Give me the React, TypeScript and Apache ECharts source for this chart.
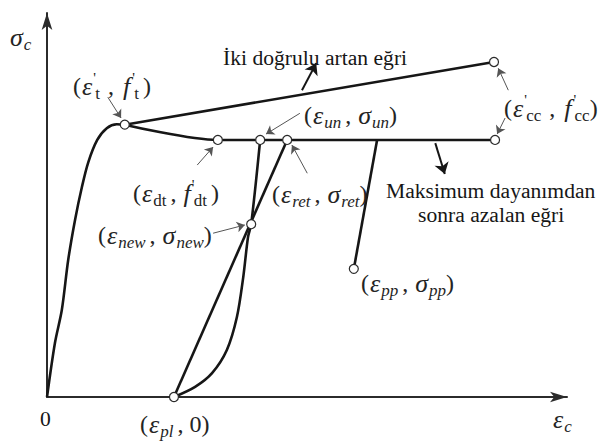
import { useEffect, useRef } from "react";
import * as echarts from "echarts";

const SERIF = "Liberation Serif, serif";
const INK = "#161616";
const LABEL_INK = "#242424";

// Schematic strain (x) and stress (y) values on an arbitrary scale
const X_MAX = 98.3;
const Y_MAX = 98;

const riseBranch = [
  [0, 0], [1.5, 13.8], [2.8, 22.2], [4.0, 34.9], [5.3, 45.2], [6.6, 53.6],
  [7.8, 59.9], [9.5, 65.6], [11.3, 68.6], [13.2, 69.6], [14.7, 69.5],
];
const bilinearBranch = [[14.7, 69.5], [84.5, 85.5]];
const softeningBranch = [[14.7, 69.5], [32.3, 65.6], [84.7, 65.6]];
const unloadBranch = [
  [40.3, 65.6], [38.6, 44.1], [38.0, 40.8], [37.1, 30.6], [35.9, 20.4],
  [34.0, 12.0], [31.2, 6.1], [28.0, 2.6], [24.0, 0],
];
const reloadBranch = [[24.0, 0], [45.4, 65.6]];
const finalUnloadBranch = [[62.4, 65.6], [58.0, 32.7]];

// (ε't,f't), (εdt,f'dt), (εun,σun), (εret,σret), (ε'cc,f'cc) x2, (εnew,σnew), (εpl,0), (εpp,σpp)
const keyPoints = [
  [14.7, 69.5], [32.3, 65.6], [40.3, 65.6], [45.4, 65.6], [84.5, 85.5],
  [84.7, 65.6], [38.6, 44.1], [24.0, 0], [58.0, 32.7],
];

// Thin pointers from the point labels: [from, to]
const pointerArrows = [
  [[11.5, 76.5], [14.0, 71.2]],
  [[28.4, 59.2], [31.4, 63.8]],
  [[47.8, 72.4], [41.4, 67.1]],
  [[49.2, 57.1], [46.3, 64.3]],
  [[31.4, 41.8], [37.4, 43.9]],
  [[87.2, 78.3], [85.3, 83.9]],
  [[86.6, 71.2], [85.1, 67.1]],
];
// Bold pointers to the branch captions
const captionArrows = [
  [[48.2, 78.3], [50.9, 85.2]],
  [[73.4, 64.8], [75.2, 56.9]],
];

const branches = [riseBranch, bilinearBranch, softeningBranch, unloadBranch, reloadBranch, finalUnloadBranch];

type Piece = [string, string];

// rich-text pieces: p = upright, v = italic symbol, f = italic f, s = italic subscript,
// u / w = upright subscript (w spaced), q = prime, c = separating comma
const base = { fontFamily: SERIF, fill: LABEL_INK };
const rich = {
  p: { ...base, fontSize: 24, lineHeight: 32, verticalAlign: "middle" },
  c: { ...base, fontSize: 24, lineHeight: 32, verticalAlign: "middle", padding: [0, 6, 0, 4] },
  v: { ...base, fontStyle: "italic", fontSize: 26, lineHeight: 32, verticalAlign: "middle", padding: [0, 1, 0, 1] },
  f: { ...base, fontStyle: "italic", fontSize: 26, lineHeight: 32, verticalAlign: "middle", padding: [0, 2, 0, 3] },
  s: { ...base, fontStyle: "italic", fontSize: 17, lineHeight: 10, verticalAlign: "bottom" },
  u: { ...base, fontSize: 17, lineHeight: 10, verticalAlign: "bottom" },
  w: { ...base, fontSize: 17, lineHeight: 10, verticalAlign: "bottom", padding: [0, 4, 0, 1] },
  q: { ...base, fontSize: 15, lineHeight: 12, width: 1, verticalAlign: "top" },
};

const build = (pieces: Piece[]) => pieces.map(([k, t]) => `{${k}|${t}}`).join("");

const mathLabels: { x: number; y: number; pieces: Piece[] }[] = [
  { x: 73, y: 70, pieces: [["p", "("], ["v", "ε"], ["q", "'"], ["w", "t"], ["c", ","], ["f", "f"], ["q", "'"], ["w", "t"], ["p", ")"]] },
  { x: 133, y: 177, pieces: [["p", "("], ["v", "ε"], ["u", "dt"], ["c", ","], ["v", "f"], ["q", "'"], ["w", "dt"], ["p", ")"]] },
  { x: 304, y: 99, pieces: [["p", "("], ["v", "ε"], ["s", "un"], ["c", ","], ["v", "σ"], ["s", "un"], ["p", ")"]] },
  { x: 272, y: 178, pieces: [["p", "("], ["v", "ε"], ["s", "ret"], ["c", ","], ["v", "σ"], ["s", "ret"], ["p", ")"]] },
  { x: 98, y: 219, pieces: [["p", "("], ["v", "ε"], ["s", "new"], ["c", ","], ["v", "σ"], ["s", "new"], ["p", ")"]] },
  { x: 361, y: 267, pieces: [["p", "("], ["v", "ε"], ["s", "pp"], ["c", ","], ["v", "σ"], ["s", "pp"], ["p", ")"]] },
  { x: 140, y: 408, pieces: [["p", "("], ["v", "ε"], ["s", "pl"], ["c", ","], ["p", "0)"]] },
  { x: 504, y: 92, pieces: [["p", "("], ["v", "ε"], ["q", "'"], ["w", "cc"], ["c", ","], ["f", "f"], ["q", "'"], ["u", "cc"], ["p", ")"]] },
  { x: 9, y: 21, pieces: [["v", "σ"], ["s", "c"]] },
  { x: 552, y: 403, pieces: [["v", "ε"], ["s", "c"]] },
];

const captions = [
  { x: 223, y: 47, text: "İki doğrulu artan eğri" },
  { x: 386, y: 180, text: "Maksimum dayanımdan" },
  { x: 418, y: 204, text: "sonra azalan eğri" },
  { x: 40, y: 408, text: "0" },
];

export default function App() {
  const ref = useRef<HTMLDivElement>(null);

  useEffect(() => {
    if (!ref.current) return;
    const chart = echarts.init(ref.current, undefined, { renderer: "svg" });

    const axisLine = {
      show: true,
      symbol: ["none", "arrow"],
      symbolSize: [8, 17],
      lineStyle: { color: "#2b2b2b", width: 2 },
    };
    const hiddenParts = {
      axisTick: { show: false },
      axisLabel: { show: false },
      splitLine: { show: false },
    };

    chart.setOption({
      animation: false,
      backgroundColor: "#ffffff",
      grid: { left: 47, right: 31, top: 13, bottom: 48 },
      xAxis: { type: "value", min: 0, max: X_MAX, axisLine, ...hiddenParts },
      yAxis: { type: "value", min: 0, max: Y_MAX, axisLine, ...hiddenParts },
      series: [
        ...branches.map((data) => ({
          type: "line",
          data,
          smooth: 0.3,
          showSymbol: false,
          lineStyle: { color: INK, width: 2.6 },
          z: 3,
        })),
        {
          type: "lines",
          coordinateSystem: "cartesian2d",
          symbol: ["none", "arrow"],
          symbolSize: 8,
          lineStyle: { color: "#555555", width: 1, opacity: 1 },
          data: pointerArrows.map((coords) => ({ coords })),
          z: 4,
        },
        {
          type: "lines",
          coordinateSystem: "cartesian2d",
          symbol: ["none", "arrow"],
          symbolSize: 11,
          lineStyle: { color: INK, width: 2, opacity: 1 },
          data: captionArrows.map((coords) => ({ coords })),
          z: 4,
        },
        {
          type: "scatter",
          data: keyPoints,
          symbol: "circle",
          symbolSize: 9,
          itemStyle: { color: "#ffffff", borderColor: "#2a2a2a", borderWidth: 1.2, opacity: 1 },
          z: 5,
        },
      ],
      graphic: [
        ...mathLabels.map((l) => ({
          type: "text",
          x: l.x,
          y: l.y,
          z: 10,
          style: { text: build(l.pieces), rich, align: "left", verticalAlign: "top" },
        })),
        ...captions.map((c) => ({
          type: "text",
          x: c.x,
          y: c.y,
          z: 10,
          style: {
            text: c.text,
            fontFamily: SERIF,
            fontSize: 21.6,
            fill: INK,
            align: "left",
            verticalAlign: "top",
          },
        })),
      ],
    });

    return () => chart.dispose();
  }, []);

  return (
    <div
      ref={ref}
      style={{ position: "fixed", left: 0, top: 0, width: 598, height: 445 }}
    />
  );
}
